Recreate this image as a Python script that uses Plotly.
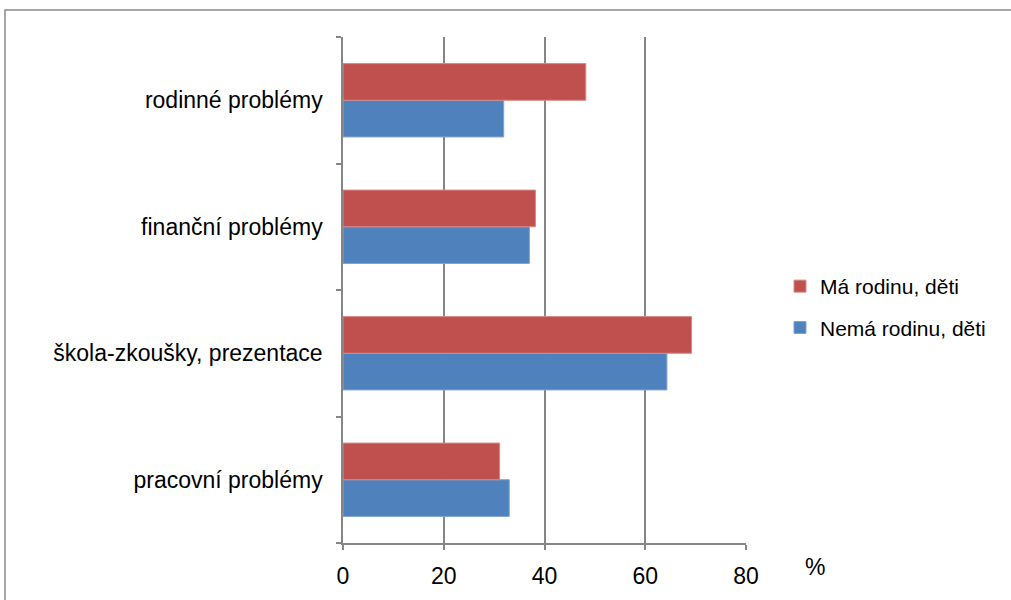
import plotly.graph_objects as go

categories = ["pracovní problémy", "škola-zkoušky, prezentace", "finanční problémy", "rodinné problémy"]
nema = [33.0, 64.3, 37.0, 31.9]
ma = [31.1, 69.2, 38.2, 48.2]
x_ticks = [0, 20, 40, 60, 80]

FONT = "Liberation Sans, Arial, sans-serif"

fig = go.Figure()
fig.add_trace(go.Bar(y=categories, x=nema, orientation="h", name="Nemá rodinu, děti",
                     legendgroup="b", legendrank=2,
                     marker=dict(color="#4F81BD", line=dict(color="#7FA3D3", width=1))))
fig.add_trace(go.Bar(y=categories, x=ma, orientation="h", name="Má rodinu, děti",
                     legendgroup="a", legendrank=1,
                     marker=dict(color="#C0504D", line=dict(color="#D88A88", width=1))))

L, R, T, B = 343, 746, 37, 543
W, H = R - L, B - T

def px(x):
    return (x - L) / W

def py(y):
    return (B - y) / H

fig.update_layout(
    width=1011, height=600,
    margin=dict(l=L, r=1011 - R, t=T, b=600 - B),
    barmode="group", bargap=0.42, bargroupgap=0,
    plot_bgcolor="white", paper_bgcolor="white",
    font=dict(family=FONT, color="black", size=23),
    showlegend=True,
    legend=dict(x=px(780), y=py(307), xanchor="left", yanchor="middle",
                traceorder="grouped", tracegroupgap=11,
                font=dict(size=21, family=FONT),
                bgcolor="rgba(0,0,0,0)"),
    xaxis=dict(range=[0, 80], tickvals=x_ticks, ticktext=[str(v) for v in x_ticks],
               showgrid=True, gridcolor="#868686", gridwidth=1.5,
               showline=True, linecolor="#868686", linewidth=1.5,
               ticks="outside", ticklen=5, tickcolor="#868686", tickwidth=1.5,
               zeroline=False, tickfont=dict(size=23), ticklabelstandoff=7,
               fixedrange=True),
    yaxis=dict(type="category", categoryorder="array", categoryarray=categories,
               showline=True, linecolor="#868686", linewidth=1.5,
               ticks="outside", ticklen=5, tickcolor="#868686", tickwidth=1.5,
               tickson="boundaries", showgrid=False, ticklabelstandoff=14,
               tickfont=dict(size=23), fixedrange=True),
    shapes=[dict(type="rect", xref="paper", yref="paper",
                 x0=px(5), x1=px(1030), y0=py(10), y1=py(620),
                 line=dict(color="#8A8A8A", width=1.5), fillcolor="rgba(0,0,0,0)", layer="below")],
    annotations=[dict(text="%", xref="paper", yref="paper", x=px(815), y=py(567),
                      xanchor="center", yanchor="middle",
                      showarrow=False, font=dict(size=23, family=FONT))],
)

fig.write_html("out.html")
